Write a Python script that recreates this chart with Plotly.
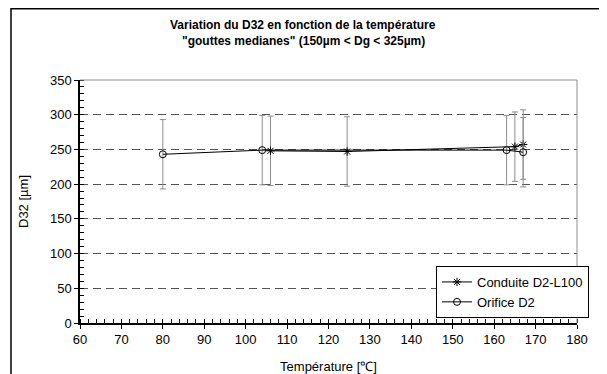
import plotly.graph_objects as go

# Conduite D2-L100 (asterisks)
cond_temp = [106, 124.5, 165, 167]
cond_d32 = [248, 247, 254, 257]
cond_err = [50, 50, 50, 50]

# Orifice D2 (open circles)
orif_temp = [80, 104, 163, 167]
orif_d32 = [243, 249, 249, 246]
orif_err = [50, 50, 50, 50]

title_lines = ["Variation du D32 en fonction de la température",
               "\"gouttes medianes\" (150µm < Dg < 325µm)"]

# the page puts an 8px margin round the figure, so the figure is 8px smaller
W, H = 599, 366
L, R, T, B = 72, 30, 72, 51
PW, PH = W - L - R, H - T - B
FONT = "Liberation Sans, Arial, sans-serif"

fig = go.Figure()

fig.add_trace(go.Scatter(
    x=cond_temp, y=cond_d32, name="Conduite D2-L100",
    mode="lines+markers",
    line=dict(color="black", width=1),
    marker=dict(symbol="asterisk-open", size=7, color="black",
                line=dict(color="black", width=1)),
    error_y=dict(type="data", array=cond_err, color="#8c8c8c",
                 thickness=1, width=3),
))

fig.add_trace(go.Scatter(
    x=orif_temp, y=orif_d32, name="Orifice D2",
    mode="lines+markers",
    line=dict(color="black", width=1),
    marker=dict(symbol="circle-open", size=7, color="black",
                line=dict(color="black", width=1)),
    error_y=dict(type="data", array=orif_err, color="#8c8c8c",
                 thickness=1, width=3),
))

# gray top/right border of the plot area
fig.add_shape(type="line", xref="paper", yref="paper", x0=0, x1=1, y0=1, y1=1,
              line=dict(color="#8c8c8c", width=1))
fig.add_shape(type="line", xref="paper", yref="paper", x0=1, x1=1, y0=0, y1=1,
              line=dict(color="#8c8c8c", width=1))
# outer frame (left and top edges only are inside the window)
fig.add_shape(type="rect", xref="paper", yref="paper",
              x0=(3 - L) / PW, x1=(W + 10 - L) / PW,
              y0=-(B + 10) / PH, y1=(H - B - 0.8) / PH,
              line=dict(color="black", width=1.5))

# two-line bold title, placed line by line
for txt, ypx in zip(title_lines, [17, 33]):
    fig.add_annotation(
        text="<b>" + txt + "</b>", xref="paper", yref="paper",
        x=(295 - L) / PW, y=(H - B - ypx) / PH,
        xanchor="center", yanchor="middle", showarrow=False,
        font=dict(size=12),
    )

fig.update_xaxes(
    range=[60, 180], dtick=10, tick0=60,
    showline=True, linecolor="black", linewidth=1.5,
    ticks="outside", ticklen=4, tickcolor="black",
    minor=dict(dtick=2, ticks="inside", ticklen=4, tickcolor="black"),
    showgrid=False, zeroline=False, automargin=False,
    title=dict(text="Température [℃]", font=dict(size=13), standoff=17),
)
fig.update_yaxes(
    range=[0, 350], dtick=50, tick0=0,
    showline=True, linecolor="black", linewidth=1.5,
    ticks="outside", ticklen=4, tickcolor="black",
    minor=dict(dtick=10, ticks="inside", ticklen=4, tickcolor="black"),
    showgrid=True, gridcolor="#555555", griddash="8px,5px", gridwidth=1,
    zeroline=False, automargin=False,
    title=dict(text="D32 [µm]", font=dict(size=13), standoff=18),
)

fig.update_layout(
    width=W, height=H,
    margin=dict(l=L, r=R, t=T, b=B),
    paper_bgcolor="white", plot_bgcolor="white",
    font=dict(family=FONT, size=13, color="black"),
    showlegend=True,
    legend=dict(
        x=(428 - L) / PW, y=(H - B - 258) / PH,
        xanchor="left", yanchor="top",
        bordercolor="black", borderwidth=1, bgcolor="white",
        font=dict(size=13), tracegroupgap=0,
    ),
)

fig.write_html("out.html")
